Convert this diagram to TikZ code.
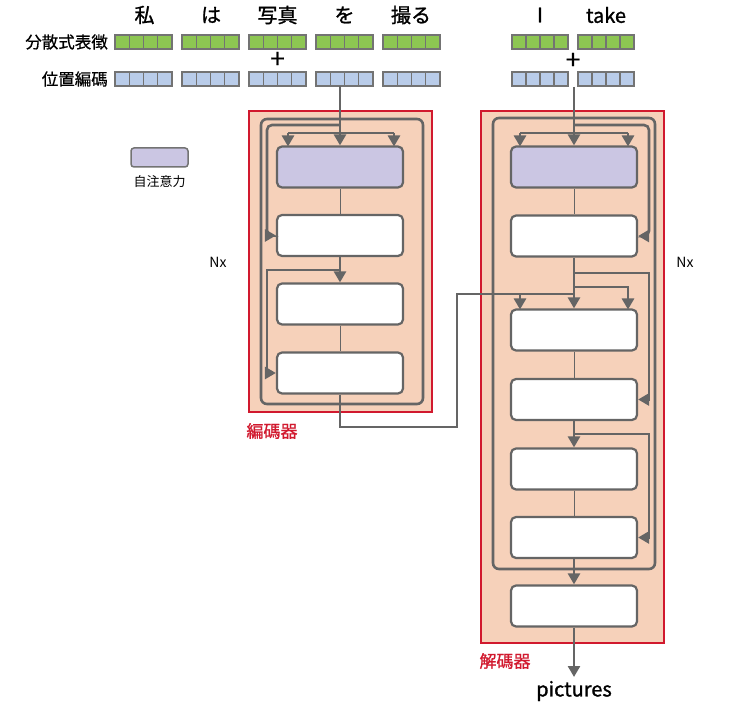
\documentclass[tikz,border=0pt]{standalone}
\usepackage{fontspec}
\setmainfont{Noto Sans CJK JP}
\newfontfamily\medfont{Noto Sans CJK JP}[FakeBold=1.2]
\newfontfamily\semifont{Noto Sans CJK JP}[FakeBold=0.6]
\usetikzlibrary{arrows.meta}
\definecolor{vgreen}{HTML}{8DC652}
\definecolor{vblue}{HTML}{B9CCE9}
\definecolor{vpurple}{HTML}{CBC6E3}
\definecolor{salmon}{HTML}{F6D1BA}
\definecolor{redline}{HTML}{D1192E}
\definecolor{lgray}{HTML}{656565}
\definecolor{cgray}{HTML}{737373}
\begin{document}
\begin{tikzpicture}[x=1pt,y=-1pt,
  cell/.style={draw=cgray, line width=1.2pt},
  stack/.style={draw=redline, line width=1.5pt, fill=salmon},
  loop/.style={draw=lgray, line width=2.6pt, rounded corners=6pt},
  flow/.style={draw=lgray, line width=2.6pt},
  arr/.style={draw=lgray, line width=2.6pt, -{Triangle[length=11pt,width=12pt]}},
  thin/.style={draw=lgray, line width=1pt},
  wbox/.style={draw=lgray, line width=2.2pt, fill=white, rounded corners=5pt, minimum width=126pt, minimum height=41pt, inner sep=0pt},
  pbox/.style={wbox, fill=vpurple},
  word/.style={font=\medfont\fontsize{20}{22}\selectfont, inner sep=0pt},
  rowlab/.style={font=\semifont\fontsize{16.5}{18}\selectfont, inner sep=0pt, anchor=east},
  small/.style={font=\fontsize{13}{15}\selectfont, inner sep=0pt},
  nxlab/.style={font=\fontsize{14}{16}\selectfont, inner sep=0pt},
  pluslab/.style={font=\semifont\fontsize{26}{28}\selectfont, inner sep=0pt},
  redlab/.style={font=\medfont\fontsize{17}{19}\selectfont, text=redline, inner sep=0pt}
]
\useasboundingbox (0,0) rectangle (732,711);

% ---- top words
\node[word] (w1) at (144.5,15) {私};
\node[word] (w2) at (211,15) {は};
\node[word] (w3) at (277.5,15) {写真};
\node[word] (w4) at (344.5,15) {を};
\node[word] (w5) at (411,15) {撮る};
\node[word] (w6) at (540,15) {I};
\node[word] (w7) at (606,15) {take};

\node[rowlab] (lab1) at (108,42) {分散式表徴};
\node[rowlab] (lab2) at (108,79) {位置編碼};

% ---- vectors
\foreach \bx in {115,182,249,316,383} {
  \foreach \i in {0,...,3} {
    \draw[cell, fill=vgreen] ({\bx+\i*14.25},35) rectangle ++(14.25,14);
    \draw[cell, fill=vblue] ({\bx+\i*14.25},72) rectangle ++(14.25,14);
  }
}
\foreach \bx in {512,578} {
  \foreach \i in {0,...,3} {
    \draw[cell, fill=vgreen] ({\bx+\i*14},35) rectangle ++(14,14);
    \draw[cell, fill=vblue] ({\bx+\i*14},72) rectangle ++(14,14);
  }
}
\node[pluslab] (plus1) at (277.5,60) {+};
\node[pluslab] (plus2) at (573,61) {+};

% ---- legend
\draw[draw=cgray, line width=1.5pt, fill=vpurple, rounded corners=3pt] (131,148) rectangle (188,167);
\node[small] (leg) at (159.5,182) {自注意力};

\node[nxlab] (nx1) at (218,262) {Nx};
\node[nxlab] (nx2) at (685,262) {Nx};

% ---- stacks
\draw[stack] (249,111) rectangle (432,412);
\draw[stack] (481,111) rectangle (664,643);

\node[redlab] (enclab) at (272,431) {編碼器};
\node[redlab] (declab) at (505,661) {解碼器};

% ---- loops
\draw[loop] (261,119) rectangle (423,404);
\draw[loop] (493,118) rectangle (655,569);

% ---- encoder boxes
\node[pbox] (e1) at (340,167) {};
\node[wbox] (e2) at (340,235.5) {};
\node[wbox] (e3) at (340,304) {};
\node[wbox] (e4) at (340,373) {};

% ---- decoder boxes
\node[pbox] (d1) at (574,167) {};
\node[wbox] (d2) at (574,236) {};
\node[wbox] (d3) at (574,330) {};
\node[wbox] (d4) at (574,399.5) {};
\node[wbox] (d5) at (574,469) {};
\node[wbox] (d6) at (574,537.5) {};
\node[wbox] (d7) at (574,606) {};

\node[word] (out) at (574,691) {pictures};

% ---- encoder flows
\coordinate (ein) at (340,86);
\draw[arr] (ein) -- (e1.north);
\draw[flow] (288,133) -- (394,133);
\draw[arr] (288,133) -- (288,146.5);
\draw[arr] (394,133) -- (394,146.5);
\draw[arr, rounded corners=5pt] (340,125) -- (267,125) -- (267,235.5) -- (e2.west);
\draw[thin] (e1.south) -- (e2.north);
\draw[arr] (e2.south) -- (e3.north);
\draw[arr] (340,270) -- (267,270) -- (267,373) -- (e4.west);
\draw[thin] (e3.south) -- (e4.north);

% ---- encoder to decoder
\coordinate (c1) at (340,427);
\coordinate (c2) at (457,427);
\coordinate (c3) at (457,294);
\coordinate (c4) at (574,294);
\draw[flow] (e4.south) -- (c1) -- (c2) -- (c3) -- (c4);
\draw[arr] (520,294) -- (520,309.5);

% ---- decoder flows
\coordinate (din) at (574,87);
\draw[arr] (din) -- (d1.north);
\draw[flow] (520,133) -- (628,133);
\draw[arr] (520,133) -- (520,146.5);
\draw[arr] (628,133) -- (628,146.5);
\draw[arr, rounded corners=5pt] (574,125) -- (649,125) -- (649,236) -- (d2.east);
\draw[thin] (d1.south) -- (d2.north);
\draw[arr] (d2.south) -- (d3.north);
\draw[arr] (574,287) -- (628,287) -- (628,309.5);
\draw[arr] (574,273) -- (649,273) -- (649,399.5) -- (d4.east);
\draw[thin] (d3.south) -- (d4.north);
\draw[arr] (d4.south) -- (d5.north);
\draw[arr] (574,434) -- (649,434) -- (649,537.5) -- (d6.east);
\draw[thin] (d5.south) -- (d6.north);
\draw[arr] (d6.south) -- (d7.north);
\draw[arr] (d7.south) -- (574,677);
\end{tikzpicture}
\end{document}
